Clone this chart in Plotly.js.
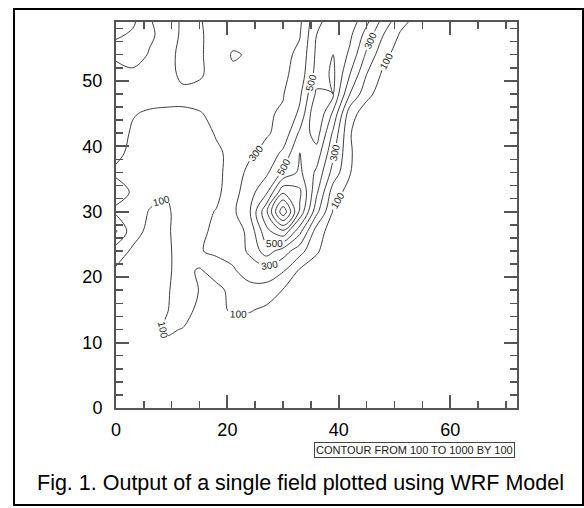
<!DOCTYPE html>
<html>
<head>
<meta charset="utf-8">
<script src="https://cdn.plot.ly/plotly-3.0.1.min.js"></script>
<style>
html,body{margin:0;padding:0;background:#fff;}
#chart{width:584px;height:508px;}
</style>
</head>
<body>
<div id="chart"></div>
<script>
// Grid coordinates (WRF grid indices)
const xGrid = [0,3,6,9,12,15,18,21,24,27,30,33,36,39,42,45,48,51,54,57,60,63,66,69,72];
const yGrid = [0,3,6,9,12,15,18,21,24,27,30,33,36,39,42,45,48,51,54,57,59];

// Field values, one row per y (bottom to top)
const row_y00 = [30,30,30,30,30,30,30,30,30,30,30,30,30,30,30,30,30,30,30,30,30,30,30,30,30];
const row_y03 = [30,30,35,35,35,30,30,30,30,30,30,30,30,30,30,30,30,30,30,30,30,30,30,30,30];
const row_y06 = [35,35,40,45,40,35,35,35,35,30,30,30,30,30,30,30,30,30,30,30,30,30,30,30,30];
const row_y09 = [40,40,50,70,60,45,40,40,40,35,30,30,30,30,30,30,30,30,30,30,30,30,30,30,30];
const row_y12 = [40,45,60,115,95,50,45,50,50,40,35,30,30,30,30,30,30,30,30,30,30,30,30,30,30];
const row_y15 = [40,45,55,92,150,70,70,115,108,80,50,40,30,30,30,30,30,30,30,30,30,30,30,30,30];
const row_y18 = [45,50,60,80,170,95,60,140,170,160,95,60,40,35,30,30,30,30,30,30,30,30,30,30,30];
const row_y21 = [85,70,70,80,140,85,160,190,240,260,210,85,60,40,30,30,30,30,30,30,30,30,30,30,30];
const row_y24 = [150,85,60,75,150,195,215,230,320,450,350,240,110,50,35,30,30,30,30,30,30,30,30,30,30];
const row_y27 = [310,140,75,80,155,185,215,240,330,570,680,430,150,50,35,30,30,30,30,30,30,30,30,30,30];
const row_y30 = [180,150,95,80,150,170,205,280,390,680,1080,680,330,90,40,30,30,30,30,30,30,30,30,30,30];
const row_y33 = [240,190,130,110,150,160,175,260,360,480,780,720,420,150,60,35,30,30,30,30,30,30,30,30,30];
const row_y36 = [185,170,150,140,150,155,175,240,330,380,520,620,480,260,105,40,30,30,30,30,30,30,30,30,30];
const row_y39 = [220,180,150,145,150,160,190,215,280,330,420,600,560,320,110,40,30,30,30,30,30,30,30,30,30];
const row_y42 = [235,190,160,150,160,175,205,235,260,290,330,520,650,380,105,45,30,30,30,30,30,30,30,30,30];
const row_y45 = [240,205,190,188,192,196,215,260,280,290,310,420,700,480,140,50,30,30,30,30,30,30,30,30,30];
const row_y48 = [240,240,235,225,215,225,240,270,280,290,295,380,620,600,300,130,50,30,30,30,30,30,30,30,30];
const row_y51 = [240,270,250,225,185,190,230,280,290,295,280,340,540,620,400,200,80,40,30,30,30,30,30,30,30];
const row_y54 = [330,360,290,225,180,188,240,310,290,270,275,320,520,600,480,280,130,55,30,30,30,30,30,30,30];
const row_y57 = [420,380,320,260,180,190,230,260,280,290,280,295,500,560,520,360,200,90,40,30,30,30,30,30,30];
const row_y59 = [450,420,310,250,185,195,225,250,275,290,270,280,480,540,560,420,260,130,70,40,30,30,30,30,30];

// Contour levels: 100 to 1000 by 100; 100, 300 and 500 carry labels
const evenLevels = {start:200, end:1000, size:200};
const highOddLevels = {start:700, end:900, size:200};
const labelledLevels = {start:-11500, end:500, size:200}; // only 100, 300, 500 fall inside the data

// Axis ticks
const xTickVals = [0,20,40,60];
const yTickVals = [0,10,20,30,40,50];

const infoText = "CONTOUR FROM 100 TO 1000 BY 100";
const captionText = "Fig. 1. Output of a single field plotted using WRF Model";

const zRows = [row_y00,row_y03,row_y06,row_y09,row_y12,row_y15,row_y18,row_y21,row_y24,row_y27,
  row_y30,row_y33,row_y36,row_y39,row_y42,row_y45,row_y48,row_y51,row_y54,row_y57,row_y59];

const lineStyle = {color:'#404040', width:1, smoothing:1};
const fontFam = 'Liberation Sans, Arial, Helvetica, sans-serif';

function contourTrace(lv, labels) {
  return {type:'contour', x:xGrid, y:yGrid, z:zRows, autocontour:false,
    contours:{start:lv.start, end:lv.end, size:lv.size, coloring:'none', showlabels:labels,
      labelformat:'d', labelfont:{family:fontFam, size:10, color:'#222'}},
    line:lineStyle, showscale:false, hoverinfo:'skip'};
}

const traces = [
  contourTrace(evenLevels, false),
  contourTrace(highOddLevels, false),
  contourTrace(labelledLevels, true)
];

const axisCommon = {
  showgrid:false, zeroline:false, showline:true, linecolor:'#555', linewidth:2,
  mirror:'ticks', ticks:'inside', ticklen:13, tickwidth:2, tickcolor:'#555',
  tickfont:{family:fontFam, size:18, color:'#000'}
};

const L = 116, R = 67, T = 22, B = 100;
const W = 584, H = 508;
const pw = W - L - R, ph = H - T - B;
const px = v => (v - L) / pw;
const py = v => (H - B - v) / ph;

const layout = {
  width:W, height:H,
  margin:{l:L, r:R, t:T, b:B},
  paper_bgcolor:'#fff', plot_bgcolor:'#fff',
  showlegend:false,
  xaxis:Object.assign({}, axisCommon, {range:[0,72], tickvals:xTickVals, ticklabelstandoff:4,
    minor:{dtick:5, tick0:0, ticklen:7, tickwidth:1.5, tickcolor:'#555', ticks:'inside'}}),
  yaxis:Object.assign({}, axisCommon, {range:[0,59], tickvals:yTickVals, ticklabelstandoff:8,
    minor:{dtick:2, tick0:0, ticklen:7, tickwidth:1.5, tickcolor:'#555', ticks:'inside'}}),
  shapes:[
    {type:'rect', xref:'paper', yref:'paper', x0:px(14), x1:px(583), y0:py(505), y1:py(9),
     line:{color:'#000', width:2}, fillcolor:'rgba(0,0,0,0)'}
  ],
  annotations:[
    {xref:'paper', yref:'paper', x:px(515), y:py(450), xanchor:'right', yanchor:'middle',
     text:infoText, showarrow:false, font:{family:fontFam, size:11, color:'#222'},
     bordercolor:'#444', borderwidth:1, borderpad:1, bgcolor:'#fff'},
    {xref:'paper', yref:'paper', x:px(300), y:py(483), xanchor:'center', yanchor:'middle',
     text:captionText, showarrow:false, font:{family:fontFam, size:21.5, color:'#000'}}
  ]
};

Plotly.newPlot('chart', traces, layout, {displayModeBar:false, staticPlot:true});
</script>
</body>
</html>
